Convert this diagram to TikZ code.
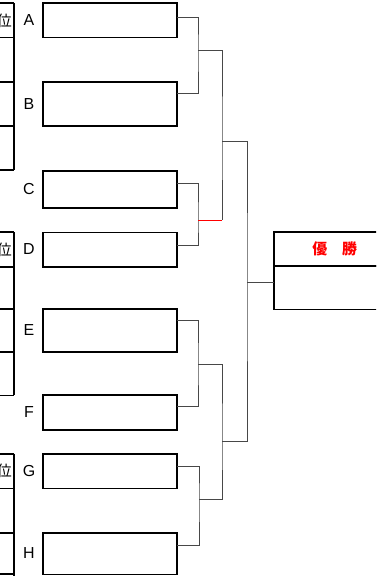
\documentclass[tikz,border=0pt]{standalone}
\usepackage{fontspec}
\setmainfont{Liberation Sans}
\newfontfamily\cjk{Noto Sans CJK JP}
\usetikzlibrary{positioning}

\begin{document}
\begin{tikzpicture}[x=1bp, y=-1bp,
	every node/.style={font=\fontsize{16}{18}\selectfont, inner sep=0pt},
	slot/.style={draw, line width=1.6bp, outer sep=0pt, minimum width=134bp, anchor=north west},
	rank/.style={anchor=east, font=\cjk\fontsize{15}{17}\selectfont},
	link/.style={draw=black!72, line width=1bp},
	win/.style={draw=red, line width=1.2bp}]
	\useasboundingbox (0,0) rectangle (376,576);
	\clip (0,0) rectangle (376,576);
	\foreach \y in {3.3,37.7,82,126,170,232,266.7,308.7,352,395.3,453.7,488.3,532.7,574}
		\draw[line width=1.6bp] (-2,\y) -- (14,\y);
	\draw[line width=1.6bp] (14,3.3) -- (14,170) (14,232) -- (14,395.3) (14,453.7) -- (14,578);
	\node[rank] (r1) at (12,21) {位};
	\node[rank] (r2) at (12,249.5) {位};
	\node[rank] (r3) at (12,471) {位};
	\foreach \n/\l/\t/\h in {a/A/3.3/34.4, b/B/82/44, c/C/171/36.7, d/D/232.3/34.4, e/E/308.7/43, f/F/395/35, g/G/453.7/34.6, h/H/532.7/41.6} {
		\node[slot, minimum height=\h bp] (\n) at (42.7,\t) {};
		\node (l\n) at ([xshift=-13.7bp]\n.west) {\l};
	}
	\node[slot, minimum width=122bp, minimum height=34.3bp, text=red, font=\cjk\bfseries\fontsize{15}{17}\selectfont] (title) at (273.7,231.7) {優　勝};
	\node[slot, minimum width=122bp, minimum height=43.3bp, below=0pt of title] (champ) {};
	\coordinate (ab) at (198,50.7);
	\coordinate (cd) at (198,220.3);
	\coordinate (ef) at (198,364.7);
	\coordinate (gh) at (199,499.3);
	\coordinate (top) at (222,141.3);
	\coordinate (bot) at (222,441.3);
	\coordinate (mid) at (247,282.7);
	\draw[link] ([yshift=2.8bp]a.east) -| (ab) |- ([yshift=10.7bp]b.east);
	\draw[link] ([yshift=5.6bp]c.east) -| (cd) |- ([yshift=4.5bp]d.east);
	\draw[link] ([yshift=9.5bp]e.east) -| (ef) |- ([yshift=5.8bp]f.east);
	\draw[link] ([yshift=5bp]g.east) -| (gh) |- ([yshift=8.5bp]h.east);
	\draw[link] (ab) -| (top) -- (top |- cd);
	\draw[win] (cd) -- (top |- cd);
	\draw[link] (ef) -| (bot) |- (gh);
	\draw[link] (top) -| (mid) |- (bot);
	\draw[link] (mid) -- (mid -| champ.west);
\end{tikzpicture}
\end{document}
